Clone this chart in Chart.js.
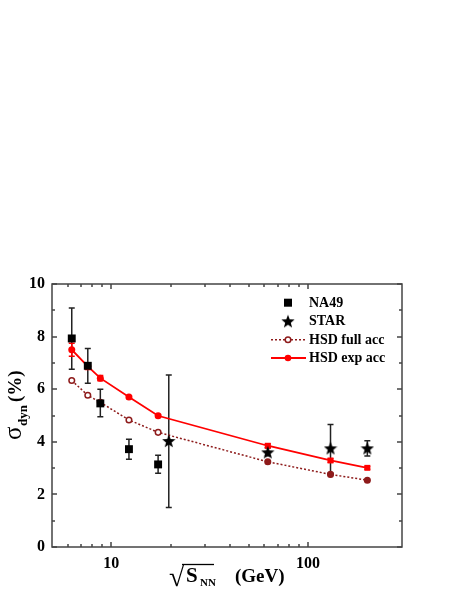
<!DOCTYPE html>
<html><head><meta charset="utf-8">
<script src="https://cdn.jsdelivr.net/npm/chart.js@4/dist/chart.umd.min.js"></script>
<style>html,body{margin:0;padding:0;background:#fff}canvas{display:block}</style>
</head><body>
<canvas id="c" width="458" height="592"></canvas>
<script>
// ---- data ----
const na49Energy = [6.3, 7.6, 8.8, 12.3, 17.3];
const na49Sigma = [7.93, 6.89, 5.46, 3.72, 3.14];
const na49ErrLow = [6.76, 6.23, 4.95, 3.34, 2.80];
const na49ErrHigh = [9.09, 7.55, 6.00, 4.10, 3.49];
const starEnergy = [19.6, 62.4, 130, 200];
const starSigma = [4.03, 3.60, 3.75, 3.75];
const starErrLow = [1.50, 3.47, 2.80, 3.46];
const starErrHigh = [6.54, 3.77, 4.66, 4.04];
const hsdEnergy = [6.3, 7.6, 8.8, 12.3, 17.3, 62.4, 130, 200];
const hsdFull = [6.33, 5.77, 5.50, 4.83, 4.36, 3.24, 2.76, 2.54];
const hsdExp = [7.50, 6.87, 6.42, 5.70, 4.99, 3.85, 3.29, 3.01];
const hsdExpErrLow = [7.25, 6.75, 6.32, 5.65, 4.95, 3.78, 3.22, 2.96];
const hsdExpErrHigh = [7.75, 7.00, 6.52, 5.75, 5.03, 3.92, 3.36, 3.06];
const yTickLabels = [0, 2, 4, 6, 8, 10];
const yMinorTicks = [1, 3, 5, 7, 9];
const xTickLabels = [10, 100];
const xMinorTicks = [6, 7, 8, 9, 20, 30, 40, 50, 60, 70, 80, 90];
const legendLabels = ['NA49', 'STAR', 'HSD full acc', 'HSD exp acc'];

const RED = '#ff0000';
const DARKRED = '#8e1b1b';
const AXIS = '#444444';
const SERIF = '"Liberation Serif","Times New Roman",serif';

function makeStar(size, color) {
  const c = document.createElement('canvas');
  c.width = size; c.height = size;
  const g = c.getContext('2d');
  const cx = size / 2, cy = size / 2 + 0.5, R = size / 2, r = R * 0.42;
  g.beginPath();
  for (let i = 0; i < 10; i++) {
    const a = -Math.PI / 2 + i * Math.PI / 5;
    const rr = i % 2 === 0 ? R : r;
    g.lineTo(cx + rr * Math.cos(a), cy + rr * Math.sin(a));
  }
  g.closePath();
  g.fillStyle = color; g.fill();
  return c;
}
const starImg = makeStar(14, '#000');

const pts = (xs, ys) => xs.map((x, i) => ({ x, y: ys[i] }));

const errorBars = {
  id: 'errorBars',
  beforeDatasetsDraw(chart) {
    const { ctx, scales: { x, y } } = chart;
    const sets = [
      [na49Energy, na49ErrLow, na49ErrHigh, '#222', 3],
      [starEnergy, starErrLow, starErrHigh, '#222', 3],
      [hsdEnergy, hsdExpErrLow, hsdExpErrHigh, RED, 3]
    ];
    ctx.save();
    ctx.lineWidth = 1.5;
    for (const [xs, lo, hi, col, cap] of sets) {
      ctx.strokeStyle = col;
      xs.forEach((v, i) => {
        const px = x.getPixelForValue(v);
        const p1 = y.getPixelForValue(lo[i]);
        const p2 = y.getPixelForValue(hi[i]);
        ctx.beginPath();
        ctx.moveTo(px, p1); ctx.lineTo(px, p2);
        ctx.moveTo(px - cap, p1); ctx.lineTo(px + cap, p1);
        ctx.moveTo(px - cap, p2); ctx.lineTo(px + cap, p2);
        ctx.stroke();
      });
    }
    ctx.restore();
  }
};

const frame = {
  id: 'frame',
  afterDraw(chart) {
    const { ctx, chartArea: a, scales: { x, y } } = chart;
    ctx.save();
    ctx.strokeStyle = AXIS;
    ctx.lineWidth = 1.5;
    ctx.strokeRect(a.left, a.top, a.right - a.left, a.bottom - a.top);
    ctx.beginPath();
    const yt = (v, len) => {
      const py = Math.round(y.getPixelForValue(v));
      ctx.moveTo(a.left, py); ctx.lineTo(a.left + len, py);
      ctx.moveTo(a.right, py); ctx.lineTo(a.right - len, py);
    };
    const xt = (v, len) => {
      const px = Math.round(x.getPixelForValue(v));
      ctx.moveTo(px, a.bottom); ctx.lineTo(px, a.bottom - len);
      ctx.moveTo(px, a.top); ctx.lineTo(px, a.top + len);
    };
    yTickLabels.forEach(v => yt(v, 5));
    yMinorTicks.forEach(v => yt(v, 3));
    xTickLabels.forEach(v => xt(v, 5));
    xMinorTicks.forEach(v => xt(v, 3));
    ctx.stroke();

    // axis titles
    ctx.fillStyle = '#000';
    ctx.textBaseline = 'alphabetic';
    ctx.textAlign = 'left';
    // y title (rotated)
    ctx.save();
    ctx.translate(21, 440);
    ctx.rotate(-Math.PI / 2);
    ctx.font = '25px ' + SERIF;
    ctx.fillText('σ', 0, 0);
    ctx.font = 'bold 13px ' + SERIF;
    ctx.fillText('dyn', 14, 6);
    ctx.font = 'bold 19px ' + SERIF;
    ctx.fillText('(%)', 38, 0);
    ctx.restore();
    // x title
    ctx.font = '28px ' + SERIF;
    ctx.fillText('√', 169, 586);
    ctx.lineWidth = 1.3;
    ctx.strokeStyle = '#000';
    ctx.beginPath();
    ctx.moveTo(182, 564.5); ctx.lineTo(214, 564.5);
    ctx.stroke();
    ctx.font = 'bold 21px ' + SERIF;
    ctx.fillText('S', 186, 582);
    ctx.font = 'bold 11px ' + SERIF;
    ctx.fillText('NN', 200, 586);
    ctx.font = 'bold 19px ' + SERIF;
    ctx.fillText('(GeV)', 235, 582);

    // legend
    const lx = 288, tx = 309;
    const ly = [302.7, 321.3, 339.7, 358];
    ctx.font = 'bold 14px ' + SERIF;
    ctx.textBaseline = 'middle';
    legendLabels.forEach((t, i) => ctx.fillText(t, tx, ly[i] + 0.5));
    ctx.fillStyle = '#000';
    ctx.fillRect(lx - 4, ly[0] - 4, 8, 8);
    ctx.drawImage(starImg, lx - 7, ly[1] - 7);
    ctx.setLineDash([2, 2]);
    ctx.strokeStyle = DARKRED; ctx.lineWidth = 1.5;
    ctx.beginPath(); ctx.moveTo(271, ly[2]); ctx.lineTo(306, ly[2]); ctx.stroke();
    ctx.setLineDash([]);
    ctx.beginPath(); ctx.arc(lx, ly[2], 2.8, 0, Math.PI * 2);
    ctx.fillStyle = '#fff'; ctx.fill(); ctx.stroke();
    ctx.strokeStyle = RED; ctx.lineWidth = 1.8;
    ctx.beginPath(); ctx.moveTo(271, ly[3]); ctx.lineTo(306, ly[3]); ctx.stroke();
    ctx.beginPath(); ctx.arc(lx, ly[3], 3.3, 0, Math.PI * 2);
    ctx.fillStyle = RED; ctx.fill();
    ctx.restore();
  }
};

new Chart(document.getElementById('c'), {
  type: 'scatter',
  data: {
    datasets: [
      { label: legendLabels[0], data: pts(na49Energy, na49Sigma), pointStyle: 'rect', pointRadius: 5.6,
        backgroundColor: '#000', borderColor: '#000', borderWidth: 0, showLine: false },
      { label: legendLabels[1], data: pts(starEnergy, starSigma), pointStyle: starImg,
        backgroundColor: '#000', borderColor: '#000', showLine: false },
      { label: legendLabels[3], data: pts(hsdEnergy, hsdExp), showLine: true, borderColor: RED, borderWidth: 1.8,
        pointStyle: ['circle', 'circle', 'circle', 'circle', 'circle', 'rect', 'rect', 'rect'],
        pointRadius: [3.5, 3.5, 3.5, 3.5, 3.5, 4.2, 4.2, 4.2], pointBackgroundColor: RED, pointBorderColor: RED, pointBorderWidth: 0, tension: 0 },
      { label: legendLabels[2], data: pts(hsdEnergy, hsdFull), showLine: true, borderColor: DARKRED, borderWidth: 1.5,
        borderDash: [2, 2], pointStyle: 'circle', pointRadius: 2.8,
        pointBackgroundColor: ['#fff', '#fff', '#fff', '#fff', '#fff', DARKRED, DARKRED, DARKRED],
        pointBorderColor: DARKRED, pointBorderWidth: 1.5, tension: 0 }
    ]
  },
  options: {
    responsive: false,
    animation: false,
    devicePixelRatio: 1,
    layout: { padding: { left: 0, top: 284, right: 56, bottom: 0 } },
    plugins: { legend: { display: false }, tooltip: { enabled: false } },
    scales: {
      x: {
        type: 'logarithmic', min: 5, max: 300,
        grid: { display: false, drawTicks: false },
        border: { display: false },
        afterBuildTicks: s => { s.ticks = xTickLabels.map(v => ({ value: v })); },
        afterFit: s => { s.height = 45; },
        ticks: { color: '#000', padding: 7, maxRotation: 0, autoSkip: false,
          font: { family: SERIF, size: 16, weight: 'bold' }, callback: v => String(v) }
      },
      y: {
        min: 0, max: 10,
        grid: { display: false, drawTicks: false },
        border: { display: false },
        afterBuildTicks: s => { s.ticks = yTickLabels.map(v => ({ value: v })); },
        afterFit: s => { s.width = 52; },
        ticks: { color: '#000', padding: 7, font: { family: SERIF, size: 16, weight: 'bold' },
          callback: v => String(v) }
      }
    }
  },
  plugins: [errorBars, frame]
});
</script>
</body></html>
